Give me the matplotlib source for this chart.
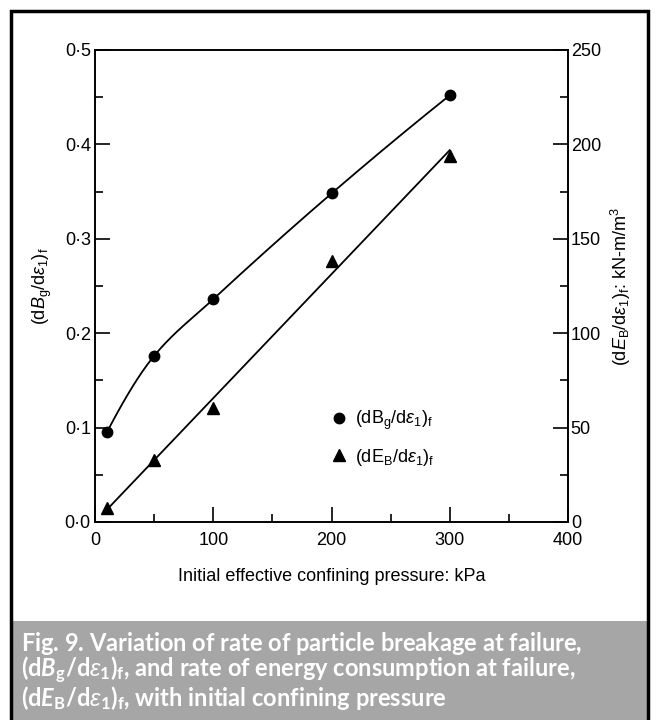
# Bruchrate und Energieverbrauch bei Versagen ueber dem Seitendruck
import numpy as np
import matplotlib
matplotlib.use('Agg')
import matplotlib.pyplot as plt
from matplotlib.ticker import MultipleLocator, FuncFormatter
from matplotlib.patches import Rectangle

# Daten
pressure = [10, 50, 100, 200, 300]
dBg = [0.095, 0.176, 0.236, 0.348, 0.452]
dEB = [7.6, 32.8, 60.4, 138.4, 193.9]

plt.rcParams['font.family'] = ['Liberation Sans', 'DejaVu Sans']
plt.rcParams['mathtext.fontset'] = 'custom'
plt.rcParams['mathtext.rm'] = 'Liberation Sans'
plt.rcParams['mathtext.it'] = 'Liberation Sans:italic'
plt.rcParams['mathtext.bf'] = 'Lato:bold'
try:
    plt.rcParams['mathtext.bfit'] = 'Lato:bold:italic'
except KeyError:
    pass


def pchip(x, y, xs):
    x = np.asarray(x, float)
    y = np.asarray(y, float)
    h = np.diff(x)
    d = np.diff(y) / h
    m = np.zeros_like(y)
    for k in range(1, len(x) - 1):
        if d[k - 1] * d[k] > 0:
            w1 = 2 * h[k] + h[k - 1]
            w2 = h[k] + 2 * h[k - 1]
            m[k] = (w1 + w2) / (w1 / d[k - 1] + w2 / d[k])
    m[0] = ((2 * h[0] + h[1]) * d[0] - h[0] * d[1]) / (h[0] + h[1])
    m[-1] = ((2 * h[-1] + h[-2]) * d[-1] - h[-1] * d[-2]) / (h[-1] + h[-2])
    idx = np.clip(np.searchsorted(x, xs) - 1, 0, len(x) - 2)
    t = (xs - x[idx]) / h[idx]
    h00 = 2 * t**3 - 3 * t**2 + 1
    h10 = t**3 - 2 * t**2 + t
    h01 = -2 * t**3 + 3 * t**2
    h11 = t**3 - t**2
    return h00 * y[idx] + h10 * h[idx] * m[idx] + h01 * y[idx + 1] + h11 * h[idx] * m[idx + 1]


fig = plt.figure(figsize=(6.59, 7.2), dpi=100)
ax = fig.add_axes([95 / 659, 198 / 720, 473 / 659, 472 / 720])
ax2 = ax.twinx()

# Kurve fuer dBg und Ausgleichsgerade fuer dEB
xs = np.linspace(pressure[0], pressure[-1], 300)
ax.plot(xs, pchip(pressure, dBg, xs), color='black', lw=1.3)
circ, = ax.plot(pressure, dBg, 'o', color='black', ms=7.5)

coef = np.polyfit(pressure, dEB, 1)
xl = np.array([pressure[0], pressure[-1]])
ax2.plot(xl, np.polyval(coef, xl), color='black', lw=1.3)
tri, = ax2.plot(pressure, dEB, '^', color='black', ms=8.5)

ax.set_xlim(0, 400)
ax.set_ylim(0, 0.5)
ax2.set_ylim(0, 250)

ax.xaxis.set_major_locator(MultipleLocator(100))
ax.xaxis.set_minor_locator(MultipleLocator(50))
ax.yaxis.set_major_locator(MultipleLocator(0.1))
ax.yaxis.set_minor_locator(MultipleLocator(0.05))
ax.yaxis.set_major_formatter(FuncFormatter(lambda v, p: f'{v:.1f}'.replace('.', '·')))
ax2.yaxis.set_major_locator(MultipleLocator(50))
ax2.yaxis.set_minor_locator(MultipleLocator(25))

for a in (ax, ax2):
    a.tick_params(which='major', direction='in', length=11, width=1.2, labelsize=13, pad=3)
    a.tick_params(which='minor', direction='in', length=6, width=1.2)
    for s in a.spines.values():
        s.set_linewidth(1.2)
ax.tick_params(axis='y', right=False, which='both')
ax.tick_params(axis='x', top=False, which='both', pad=7)
ax2.tick_params(axis='y', pad=2)

ax.set_xlabel('Initial effective confining pressure: kPa', fontsize=13, labelpad=14)
ax.set_ylabel(r'$\mathrm{(d}\mathit{B}_{\mathrm{g}}\mathrm{/d}\varepsilon_{\mathrm{1}}\mathrm{)}_{\mathrm{f}}$',
              fontsize=13, labelpad=8)
ax2.set_ylabel(r'$\mathrm{(d}\mathit{E}_{\mathrm{B}}\mathrm{/d}\varepsilon_{\mathrm{1}}\mathrm{)}_{\mathrm{f}}$: kN-m/m$^3$',
               fontsize=13, labelpad=6)

ax.legend([circ, tri],
          [r'$\mathrm{(dB}_{\mathrm{g}}\mathrm{/d}\varepsilon_{\mathrm{1}}\mathrm{)}_{\mathrm{f}}$',
           r'$\mathrm{(dE}_{\mathrm{B}}\mathrm{/d}\varepsilon_{\mathrm{1}}\mathrm{)}_{\mathrm{f}}$'],
          loc='upper left', bbox_to_anchor=(0.485, 0.255), frameon=False, fontsize=13,
          handlelength=0.8, handletextpad=0.5, labelspacing=0.8, borderaxespad=0)

# Rahmen und Bildunterschrift
fig.patches.append(Rectangle((11 / 659, -0.01), 637 / 659, 99 / 720 + 0.01, transform=fig.transFigure,
                             facecolor='#a6a6a6', edgecolor='none', zorder=0))
fig.patches.append(Rectangle((11 / 659, -0.02), 637 / 659, 709 / 720 + 0.02, transform=fig.transFigure,
                             facecolor='none', edgecolor='black', lw=2.5, zorder=1))

caption_lines = [
    r'Fig. 9. Variation of rate of particle breakage at failure,$\,$',
    r'$\mathbf{(d}\mathbfit{B}_{\mathbf{g}}\mathbf{/d}\mathit{\varepsilon}_{\mathbf{1}}\mathbf{)}_{\mathbf{f}}$'
    ', and rate of energy consumption at failure,',
    r'$\mathbf{(d}\mathbfit{E}_{\mathbf{B}}\mathbf{/d}\mathit{\varepsilon}_{\mathbf{1}}\mathbf{)}_{\mathbf{f}}$'
    ', with initial confining pressure',
]
baselines = [651, 677.5, 706.5]
for line, yb in zip(caption_lines, baselines):
    fig.text(21 / 659, 1 - yb / 720, line, color='white', fontsize=17,
             fontfamily=['Lato', 'DejaVu Sans'], fontweight='bold', ha='left', va='baseline')

plt.savefig('out.png', dpi=100)
